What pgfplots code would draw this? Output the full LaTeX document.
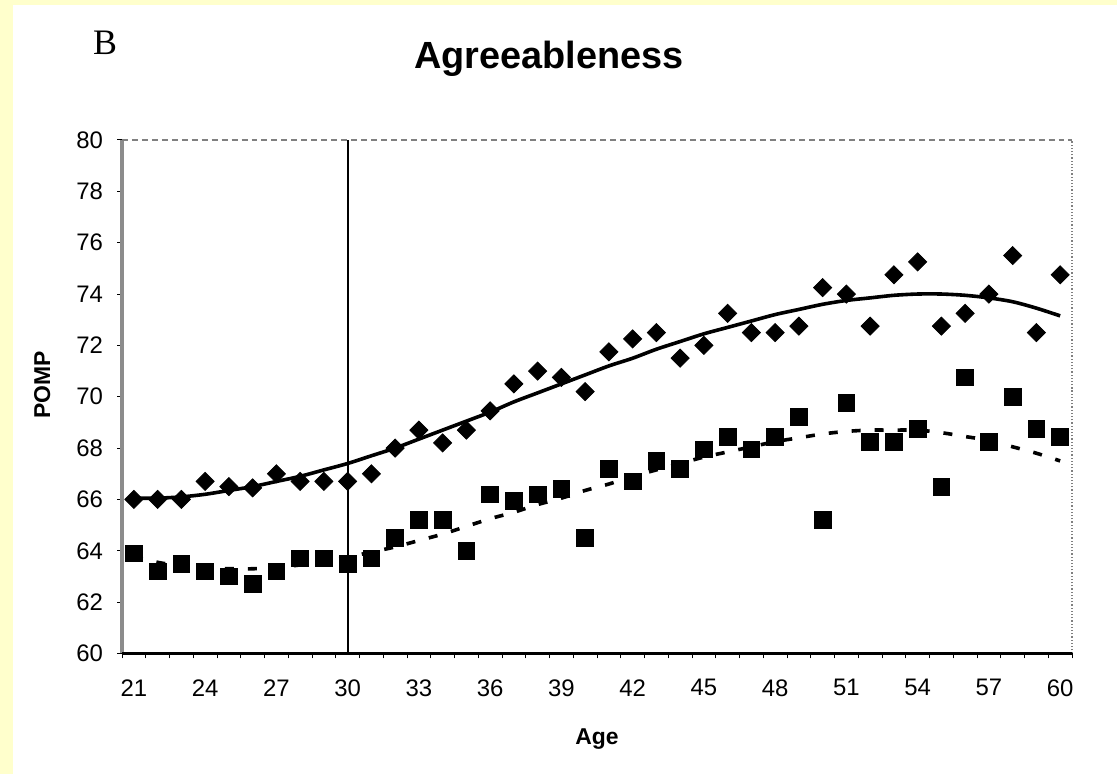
\documentclass[border=0pt]{standalone}
\usepackage{pgfplots}
\pgfplotsset{compat=1.18}
\usepackage{pgfplotstable}
\usepackage{fontspec}
\setmainfont{Liberation Sans}
\newfontfamily\serifB{Liberation Serif}
\definecolor{bgyellow}{HTML}{FFFFCC}
\definecolor{axgray}{HTML}{8C8C8C}

\pgfplotstableread{
age diam sq
21 66.0 63.9
22 66.0 63.2
23 66.0 63.5
24 66.7 63.2
25 66.5 63.0
26 66.45 62.7
27 67.0 63.2
28 66.7 63.7
29 66.7 63.7
30 66.7 63.5
31 67.0 63.7
32 68.0 64.5
33 68.7 65.2
34 68.2 65.2
35 68.7 64.0
36 69.45 66.2
37 70.5 65.95
38 71.0 66.2
39 70.75 66.4
40 70.2 64.5
41 71.75 67.2
42 72.25 66.7
43 72.5 67.5
44 71.5 67.2
45 72.0 67.95
46 73.25 68.45
47 72.5 67.95
48 72.5 68.45
49 72.75 69.2
50 74.25 65.2
51 74.0 69.75
52 72.75 68.25
53 74.75 68.25
54 75.25 68.75
55 72.75 66.5
56 73.25 70.75
57 74.0 68.25
58 75.5 70.0
59 72.5 68.75
60 74.75 68.45
}\pointdata

\pgfplotstableread{
age fitA fitB
21 66.05 63.75
22 66.05 63.55
23 66.1 63.4
24 66.2 63.3
25 66.35 63.3
26 66.5 63.3
27 66.7 63.35
28 66.9 63.45
29 67.15 63.6
30 67.4 63.75
31 67.7 63.95
32 68.0 64.15
33 68.35 64.4
34 68.7 64.65
35 69.05 64.95
36 69.4 65.25
37 69.8 65.5
38 70.15 65.8
39 70.5 66.05
40 70.85 66.35
41 71.2 66.6
42 71.5 66.9
43 71.85 67.15
44 72.15 67.4
45 72.45 67.65
46 72.7 67.85
47 72.95 68.05
48 73.2 68.25
49 73.4 68.4
50 73.6 68.55
51 73.75 68.65
52 73.85 68.7
53 73.95 68.7
54 74.0 68.7
55 74.0 68.6
56 73.95 68.45
57 73.85 68.3
58 73.7 68.05
59 73.45 67.8
60 73.15 67.5
}\fitdata

\begin{document}
\begin{tikzpicture}[x=0.5bp,y=0.5bp]
\useasboundingbox (0,0) rectangle (1117,774);
\fill[bgyellow] (0,0) rectangle (1117,774);
\fill[white] (13,0) rectangle (1117,769);
\node[anchor=base, font=\fontsize{19}{21}\selectfont\bfseries] at (549,705) {Agreeableness};
\node[anchor=base west, font=\fontsize{18}{20}\selectfont\serifB] at (86,719) {B};
\node[anchor=base, font=\fontsize{11.5}{13}\selectfont\bfseries] at (597,29) {Age};
\node[anchor=base, rotate=90, font=\fontsize{11.5}{13}\selectfont\bfseries] at (50,389) {POMP};
\begin{axis}[
  at={(61bp,60.25bp)}, anchor=south west,
  scale only axis, width=475bp, height=256.75bp,
  xmin=20.5, xmax=60.5, ymin=60, ymax=80,
  xtick={21,24,...,60}, ytick={60,62,...,80},
  minor xtick={20.5,21.5,...,60.5},
  xtick pos=bottom, ytick pos=left,
  tick align=outside,
  major x tick style={draw=none},
  minor tick length=2.5bp, major tick length=2.5bp,
  every tick/.style={black, line width=0.5bp},
  axis line style={draw=none},
  ticklabel style={font=\fontsize{12}{14}\selectfont},
  /pgf/number format/assume math mode=true,
  xticklabel style={yshift=-7bp},
  yticklabel style={xshift=-3.5bp},
  clip=false,
]
\draw[axgray, line width=2.2bp] (rel axis cs:0,0) -- (rel axis cs:0,1);
\draw[gray, line width=0.6bp, densely dashed] (rel axis cs:0,1) -- (rel axis cs:1,1);
\draw[gray, line width=0.6bp, densely dotted] (rel axis cs:1,0) -- (rel axis cs:1,1);
\draw[black, line width=1.1bp] (rel axis cs:0,0) -- (rel axis cs:1,0);
\draw[black, line width=1bp] (axis cs:30,60) -- (axis cs:30,80);
\addplot[only marks, mark=square*, mark size=3.2bp, mark options={rotate=45, fill=black, draw=black}] table[x=age, y=diam] {\pointdata};
\addplot[only marks, mark=square*, mark size=4.2bp, mark options={fill=black, draw=black}] table[x=age, y=sq] {\pointdata};
\addplot[black, line width=1.8bp, smooth, no marks] table[x=age, y=fitA] {\fitdata};
\addplot[black, line width=1.8bp, smooth, no marks, dash pattern=on 4.5bp off 7bp] table[x=age, y=fitB] {\fitdata};
\end{axis}
\end{tikzpicture}
\end{document}
